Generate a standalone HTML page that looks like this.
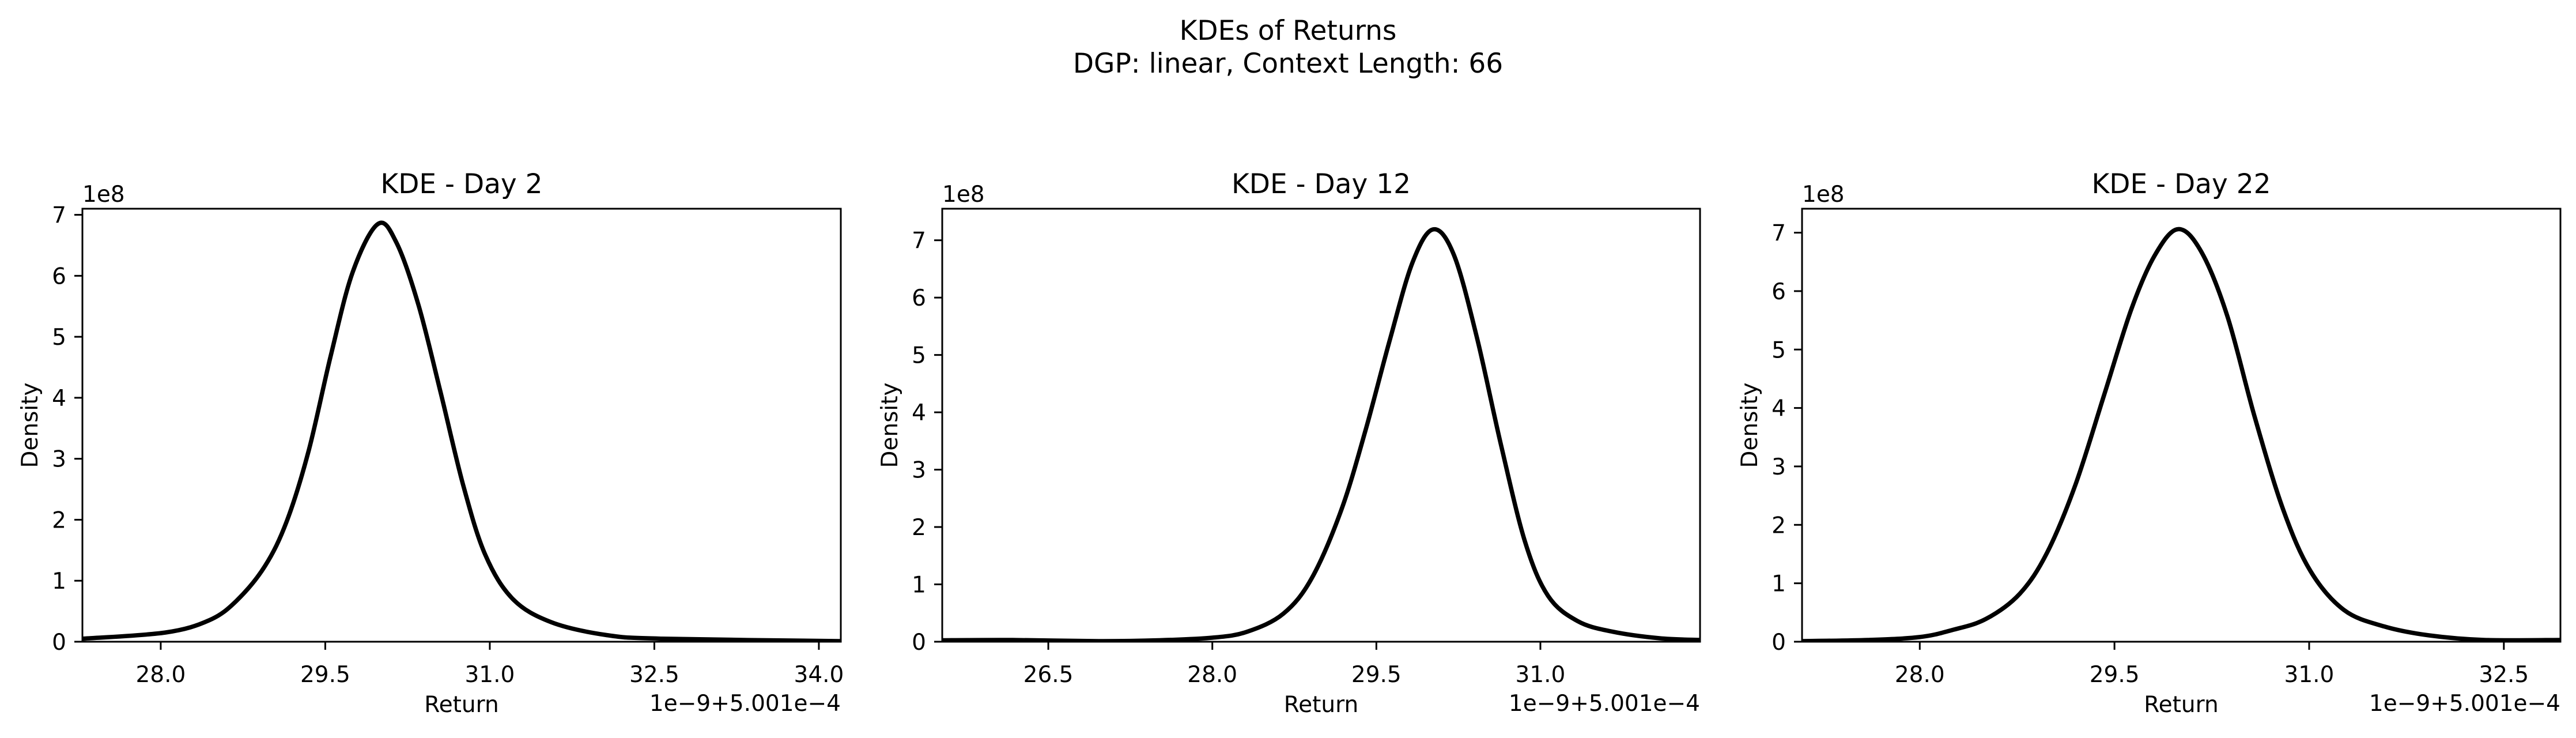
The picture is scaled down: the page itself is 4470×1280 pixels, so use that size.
<!DOCTYPE html>
<html><head><meta charset="utf-8"><style>
html,body{margin:0;padding:0;background:#fff;}
svg text{font-family:"DejaVu Sans","Liberation Sans",sans-serif;fill:#000;}
</style></head><body>
<svg id="fig" xmlns="http://www.w3.org/2000/svg" width="4470" height="1275" viewBox="0 0 4470 1275">
<rect width="4470" height="1275" fill="#fff"/>
<text x="2235" y="69" font-size="47" text-anchor="middle">KDEs of Returns</text>
<text x="2235" y="126" font-size="47" text-anchor="middle">DGP: linear, Context Length: 66</text>
</svg>
<script>
// Panel data (x in units of 1e-9 offset from 5.001e-4, y in units of 1e8)
const titles = ["KDE - Day 2", "KDE - Day 12", "KDE - Day 22"];
const xTicks1 = [28.0, 29.5, 31.0, 32.5, 34.0];
const xTicks2 = [26.5, 28.0, 29.5, 31.0];
const xTicks3 = [28.0, 29.5, 31.0, 32.5];
const yTicks = [0, 1, 2, 3, 4, 5, 6, 7];
const xs1 = [27.29,28.04,28.44,28.69,28.95,29.15,29.35,29.55,29.75,29.98,30.15,30.35,30.55,30.76,30.96,31.21,31.56,32.06,32.57,34.2];
const ys1 = [0.05,0.15,0.35,0.67,1.24,1.98,3.14,4.69,6.06,6.85,6.54,5.52,4.10,2.55,1.42,0.70,0.32,0.11,0.05,0.01];
const xs2 = [25.53,26.17,26.97,27.51,28.0,28.32,28.65,28.91,29.18,29.40,29.62,29.83,30.02,30.21,30.42,30.64,30.86,31.07,31.34,31.66,32.09,32.46];
const ys2 = [0.025,0.03,0.01,0.025,0.07,0.175,0.49,1.11,2.30,3.68,5.24,6.61,7.19,6.74,5.30,3.43,1.74,0.80,0.36,0.175,0.06,0.03];
const xs3 = [27.09,27.6,28.0,28.25,28.51,28.77,28.98,29.2,29.42,29.63,29.81,29.99,30.17,30.37,30.58,30.8,31.01,31.27,31.58,31.92,32.35,32.94];
const ys3 = [0.01,0.03,0.08,0.2,0.39,0.82,1.52,2.69,4.22,5.69,6.61,7.06,6.67,5.57,3.85,2.26,1.21,0.54,0.26,0.11,0.03,0.03];

const NS = "http://www.w3.org/2000/svg";
const svg = document.getElementById('fig');
function mk(tag, attrs, parent){
  const e = document.createElementNS(NS, tag);
  for (const k in attrs) e.setAttribute(k, attrs[k]);
  (parent||svg).appendChild(e);
  return e;
}
const panels = [
  {L:143, R:1459, xmin:27.286, xmax:34.20, ymax:7.10, xt:xTicks1, xs:xs1, ys:ys1},
  {L:1635, R:2950, xmin:25.53, xmax:32.46, ymax:7.55, xt:xTicks2, xs:xs2, ys:ys2},
  {L:3127, R:4443, xmin:27.093, xmax:32.936, ymax:7.41, xt:xTicks3, xs:xs3, ys:ys3}
];
const T = 362, B = 1113;
panels.forEach((p, i) => {
  const g = mk('g', {});
  
  
  const sx = v => p.L + (v - p.xmin) / (p.xmax - p.xmin) * (p.R - p.L);
  const sy = v => B - v / p.ymax * (B - T);
  const pts = p.xs.map((x, k) => [sx(x), sy(p.ys[k])]);
  let d = 'M' + pts[0][0] + ',' + pts[0][1];
  for (let k = 0; k < pts.length - 1; k++) {
    const p0 = pts[Math.max(k-1,0)], p1 = pts[k], p2 = pts[k+1], p3 = pts[Math.min(k+2, pts.length-1)];
    const c1x = p1[0] + (p2[0]-p0[0])/6, c1y = p1[1] + (p2[1]-p0[1])/6;
    const c2x = p2[0] - (p3[0]-p1[0])/6, c2y = p2[1] - (p3[1]-p1[1])/6;
    d += ' C' + c1x + ',' + c1y + ' ' + c2x + ',' + c2y + ' ' + p2[0] + ',' + p2[1];
  }
  const clip = mk('clipPath', {id:'clip'+i}, g);
  mk('rect', {x:p.L, y:T, width:p.R-p.L, height:B-T}, clip);
  const line = mk('path', {d:d, fill:'none', stroke:'#000', 'stroke-width':7.5, 'stroke-linejoin':'round', 'clip-path':'url(#clip'+i+')'}, g);
  
  
  const frame = mk('rect', {x:p.L, y:T, width:p.R-p.L, height:B-T, fill:'none', stroke:'#000', 'stroke-width':3}, g);
  
  
  yTicks.forEach(v => {
    const y = sy(v);
    mk('line', {x1:p.L-14, x2:p.L, y1:y, y2:y, stroke:'#000', 'stroke-width':3}, g);
    const t = mk('text', {x:p.L-28, y:y+14, 'font-size':39, 'text-anchor':'end'}, g);
    t.textContent = String(v);
    
    
  });
  p.xt.forEach(v => {
    const x = sx(v);
    mk('line', {x1:x, x2:x, y1:B, y2:B+14, stroke:'#000', 'stroke-width':3}, g);
    const t = mk('text', {x:x, y:B+70, 'font-size':39, 'text-anchor':'middle'}, g);
    t.textContent = v.toFixed(1);
    
    
  });
  const title = mk('text', {x:(p.L+p.R)/2, y:335, 'font-size':47, 'text-anchor':'middle'}, g);
  title.textContent = titles[i];
  
  
  const sci = mk('text', {x:p.L, y:350, 'font-size':39}, g);
  sci.textContent = '1e8';
  
  
  const off = mk('text', {x:p.R, y:1233, 'font-size':39, 'text-anchor':'end'}, g);
  off.textContent = '1e\u22129+5.001e\u22124';
  
  
  const xl = mk('text', {x:(p.L+p.R)/2, y:1235, 'font-size':39, 'text-anchor':'middle'}, g);
  xl.textContent = 'Return';
  
  
  const yx = p.L - 78, yy = (T+B)/2;
  const yl = mk('text', {x:yx, y:yy, 'font-size':39, 'text-anchor':'middle', transform:'rotate(-90 '+yx+' '+yy+')'}, g);
  yl.textContent = 'Density';
  
  
});
</script>
</body></html>
